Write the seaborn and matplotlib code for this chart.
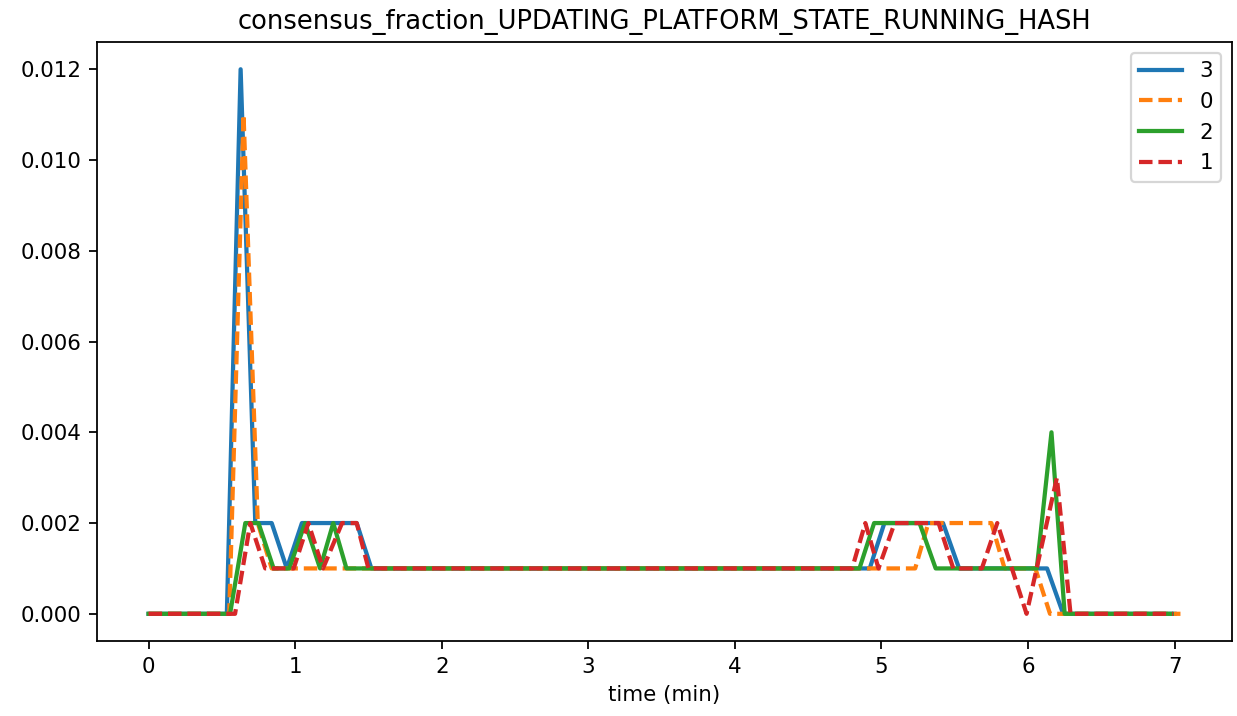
import numpy as np
import pandas as pd
import matplotlib
matplotlib.use("Agg")
import matplotlib.pyplot as plt
import seaborn as sns

# breakpoints of each node's curve (time in minutes, consensus fraction)
t_node3 = [0, 0.534, 0.628, 0.728, 0.84, 0.943, 1.046, 1.42, 1.52, 4.92, 5.02, 5.42, 5.53, 6.13, 6.24, 7.0]
v_node3 = [0, 0, 0.012, 0.002, 0.002, 0.001, 0.002, 0.002, 0.001, 0.001, 0.002, 0.002, 0.001, 0.001, 0, 0]

t_node0 = [0, 0.55, 0.648, 0.745, 0.84, 5.23, 5.32, 5.75, 5.84, 6.05, 6.15, 7.04]
v_node0 = [0, 0, 0.011, 0.002, 0.001, 0.001, 0.002, 0.002, 0.001, 0.001, 0, 0]

t_node2 = [0, 0.556, 0.66, 0.75, 0.853, 0.96, 1.068, 1.17, 1.26, 1.35, 4.85, 4.95, 5.26, 5.37,
           6.06, 6.16, 6.25, 6.98]
v_node2 = [0, 0, 0.002, 0.002, 0.001, 0.001, 0.002, 0.001, 0.002, 0.001, 0.001, 0.002, 0.002, 0.001,
           0.001, 0.004, 0, 0]

t_node1 = [0, 0.59, 0.694, 0.796, 0.99, 1.09, 1.19, 1.32, 1.42, 1.50, 4.80, 4.89, 4.98, 5.09, 5.39,
           5.49, 5.685, 5.79, 5.99, 6.197, 6.29, 6.99]
v_node1 = [0, 0, 0.002, 0.001, 0.001, 0.002, 0.001, 0.002, 0.002, 0.001, 0.001, 0.002, 0.001, 0.002, 0.002,
           0.001, 0.001, 0.002, 0, 0.003, 0, 0]

node_order = ["3", "0", "2", "1"]
series = {"3": (t_node3, v_node3), "0": (t_node0, v_node0),
          "2": (t_node2, v_node2), "1": (t_node1, v_node1)}

frames = []
for node in node_order:
    t, v = series[node]
    frames.append(pd.DataFrame({"time": t, "value": v, "node": node}))
df = pd.concat(frames, ignore_index=True)

plt.rcParams["font.size"] = 9.6

fig, ax = plt.subplots(figsize=(1237 / 160, 716 / 160), dpi=160)
fig.subplots_adjust(left=0.0784, right=0.996, top=0.9413, bottom=0.1047)

sns.lineplot(data=df, x="time", y="value", hue="node", style="node",
             hue_order=node_order, style_order=node_order,
             palette=["#1f77b4", "#ff7f0e", "#2ca02c", "#d62728"],
             dashes=["", (3.2, 1.4), "", (3.2, 1.4)],
             estimator=None, sort=True, linewidth=1.9, ax=ax)

ax.set_title("consensus_fraction_UPDATING_PLATFORM_STATE_RUNNING_HASH", fontsize=11.6)
ax.set_xlabel("time (min)")
ax.set_ylabel("")
ax.set_yticks([0, 0.002, 0.004, 0.006, 0.008, 0.010, 0.012])
ax.set_yticklabels(["0.000", "0.002", "0.004", "0.006", "0.008", "0.010", "0.012"])
ax.legend(loc="upper right")

plt.savefig("out.png", dpi=160)
